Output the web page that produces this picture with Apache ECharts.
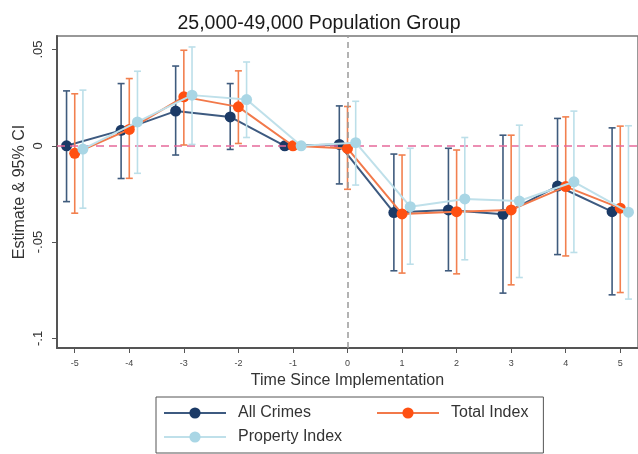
<!DOCTYPE html>
<html><head><meta charset="utf-8">
<script src="https://cdn.jsdelivr.net/npm/echarts@6/dist/echarts.min.js"></script>
<style>html,body{margin:0;padding:0;background:#fff}#c{width:638px;height:454px}</style>
</head><body><div id="c"></div>
<script>
// ---- data ----
const periods = [-5, -4, -3, -2, -1, 0, 1, 2, 3, 4, 5];
const xTickLabels = ['-5', '-4', '-3', '-2', '-1', '0', '1', '2', '3', '4', '5'];
const yTickValues = [-0.1, -0.05, 0, 0.05];
const yTickLabels = ['-.1', '-.05', '0', '.05'];
const seriesNames = ['All Crimes', 'Total Index', 'Property Index'];

const allCrimesEst = [0, 0.008, 0.018, 0.015, 0, 0.0007, -0.0347, -0.0333, -0.0356, -0.0209, -0.0342];
const allCrimesLo  = [-0.029, -0.017, -0.0048, -0.0019, null, -0.0198, -0.0649, -0.0649, -0.0765, -0.0565, -0.0774];
const allCrimesHi  = [0.0285, 0.0323, 0.0414, 0.0323, null, 0.0207, -0.0043, -0.0013, 0.0055, 0.0142, 0.0093];

const totalEst = [-0.0039, 0.0085, 0.0254, 0.0202, 0, -0.0014, -0.0354, -0.0342, -0.0333, -0.0212, -0.0324];
const totalLo  = [-0.035, -0.0169, 0.0004, 0.0012, null, -0.0226, -0.0661, -0.0665, -0.0722, -0.0572, -0.0762];
const totalHi  = [0.027, 0.0349, 0.0496, 0.0389, null, 0.0204, -0.0048, -0.0022, 0.0055, 0.015, 0.0102];

const propertyEst = [-0.0017, 0.0124, 0.0263, 0.024, 0, 0.0016, -0.0316, -0.0276, -0.0287, -0.0187, -0.0345];
const propertyLo  = [-0.0324, -0.0143, 0.0007, 0.0043, null, -0.0204, -0.0615, -0.0592, -0.0684, -0.0554, -0.0796];
const propertyHi  = [0.0289, 0.0387, 0.0513, 0.0435, null, 0.0231, -0.0013, 0.0043, 0.0107, 0.018, 0.0104];

// ---- styling ----
const groups = [
  {name: seriesNames[0], est: allCrimesEst, lo: allCrimesLo, hi: allCrimesHi, shift: -0.15,
   dot: '#1b3a66', line: '#3d5a80', ci: '#3f5b7d'},
  {name: seriesNames[1], est: totalEst, lo: totalLo, hi: totalHi, shift: 0,
   dot: '#ff5012', line: '#f2794a', ci: '#f2804f'},
  {name: seriesNames[2], est: propertyEst, lo: propertyLo, hi: propertyHi, shift: 0.15,
   dot: '#a9d6e5', line: '#bfe0ea', ci: '#bcdfe9'}
];

function errorBarRender(color) {
  return function (params, api) {
    const x = api.value(0), lo = api.value(1), hi = api.value(2);
    const p1 = api.coord([x, lo]), p2 = api.coord([x, hi]);
    const cap = 3.5;
    const st = () => ({stroke: color, lineWidth: 1.6, fill: null});
    return {type: 'group', children: [
      {type: 'line', shape: {x1: p1[0], y1: p1[1], x2: p2[0], y2: p2[1]}, style: st()},
      {type: 'line', shape: {x1: p1[0] - cap, y1: p1[1], x2: p1[0] + cap, y2: p1[1]}, style: st()},
      {type: 'line', shape: {x1: p2[0] - cap, y1: p2[1], x2: p2[0] + cap, y2: p2[1]}, style: st()}
    ]};
  };
}

const series = [];
// reference lines
series.push({
  type: 'line', name: 'ref', data: [], z: 1, silent: true,
  markLine: {
    silent: true, symbol: 'none', label: {show: false},
    data: [
      {yAxis: 0, lineStyle: {color: '#e66a9a', type: [8, 5], width: 1.5}},
      {xAxis: 0, lineStyle: {color: '#9a9a9a', type: [6, 4], width: 1.5}}
    ]
  }
});
groups.forEach((g, gi) => {
  const ciData = [];
  periods.forEach((p, i) => {
    if (g.lo[i] !== null) ciData.push([p + g.shift, g.lo[i], g.hi[i]]);
  });
  series.push({
    type: 'custom', name: g.name + ' CI', data: ciData, z: 2 + gi * 2,
    renderItem: errorBarRender(g.ci), encode: {x: 0, y: [1, 2]}, silent: true
  });
  series.push({
    type: 'line', name: g.name, z: 3 + gi * 2,
    data: periods.map((p, i) => [p + g.shift, g.est[i]]),
    symbol: 'circle', symbolSize: 11, showSymbol: true,
    itemStyle: {color: g.dot, borderWidth: 0},
    lineStyle: {color: g.line, width: 2}
  });
});

const chart = echarts.init(document.getElementById('c'));
chart.setOption({
  backgroundColor: '#fff',
  animation: false,
  textStyle: {fontFamily: 'Liberation Sans, Arial, sans-serif'},
  title: {
    text: '25,000-49,000 Population Group', left: 'center', top: 9,
    textStyle: {fontSize: 19.5, fontWeight: 'normal', color: '#1a1a1a', fontFamily: 'Liberation Sans, Arial, sans-serif'}
  },
  grid: {left: 57, top: 36, width: 583, height: 312, show: true, borderColor: '#777', borderWidth: 1.5, backgroundColor: '#fff'},
  xAxis: {
    type: 'value', min: -5.325, max: 5.325,
    name: 'Time Since Implementation', nameLocation: 'middle', nameGap: 24,
    nameTextStyle: {fontSize: 16, color: '#333'},
    axisLine: {show: true, onZero: false, lineStyle: {color: '#555', width: 2}},
    axisTick: {show: true, customValues: periods, length: 5, lineStyle: {color: '#555', width: 1}},
    axisLabel: {customValues: periods, fontSize: 9, color: '#444', margin: 11,
      formatter: v => xTickLabels[periods.indexOf(Math.round(v))]},
    splitLine: {show: false}
  },
  yAxis: {
    type: 'value', min: -0.105, max: 0.057,
    name: 'Estimate & 95% CI', nameLocation: 'middle', nameGap: 29, nameRotate: 90,
    nameMoveOverlap: false,
    nameTextStyle: {fontSize: 16, color: '#333'},
    axisLine: {show: true, onZero: false, lineStyle: {color: '#555', width: 2}},
    axisTick: {show: true, customValues: yTickValues, length: 5, lineStyle: {color: '#555', width: 1}},
    axisLabel: {customValues: yTickValues, rotate: 90, fontSize: 13, color: '#333', margin: 12,
      formatter: v => { const i = yTickValues.findIndex(t => Math.abs(t - v) < 1e-6); return i >= 0 ? yTickLabels[i] : ''; }},
    splitLine: {show: false}
  },
  legend: {
    data: seriesNames, left: 156, top: 397, width: 370,
    orient: 'horizontal', itemWidth: 62, itemHeight: 14, itemGap: 8,
    padding: [8, 15, 8, 7],
    borderColor: '#555', borderWidth: 1,
    formatter: name => name === 'All Crimes' ? '{w|' + name + '}' : name,
    textStyle: {fontSize: 16, color: '#333', lineHeight: 16, padding: [0, 0, 0, 7],
      rich: {w: {width: 130, fontSize: 16, color: '#333', lineHeight: 16}}}
  },
  series: series
});
</script>
</body></html>
